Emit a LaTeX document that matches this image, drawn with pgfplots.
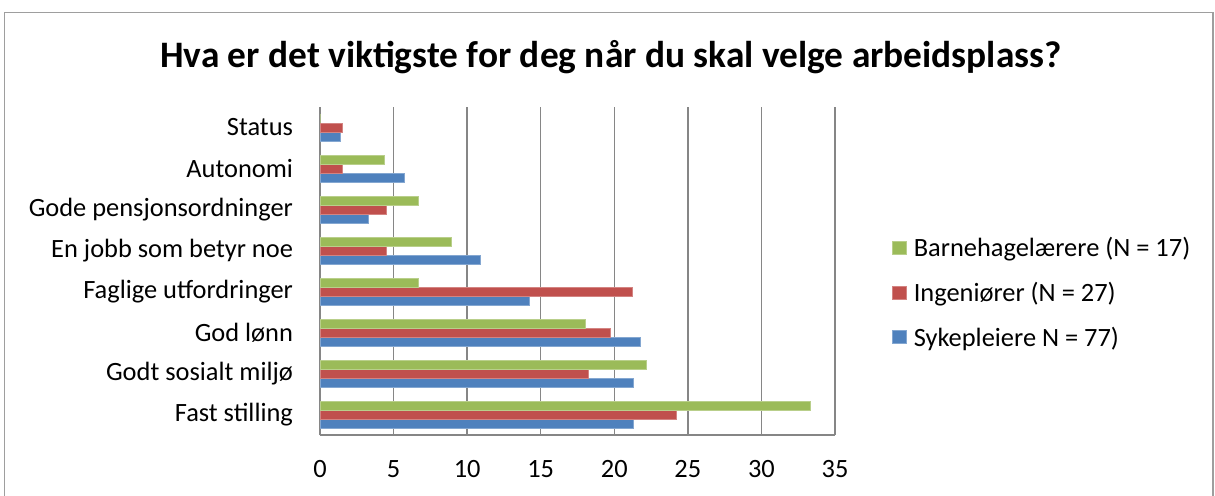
\documentclass[border=0pt]{standalone}
\usepackage{fontspec}
\setmainfont{Carlito}
\usepackage{pgfplots}
\pgfplotsset{compat=1.18}
\definecolor{cblue}{HTML}{4F81BD}
\definecolor{cred}{HTML}{C0504D}
\definecolor{cgreen}{HTML}{9BBB59}
\definecolor{cgrid}{HTML}{868686}
\begin{document}
\begin{tikzpicture}
\useasboundingbox (0bp,0bp) rectangle (1215bp,-496bp);
\begin{scope}
\clip (0bp,0bp) rectangle (1215bp,-496bp);
\draw[color=cgrid!80, line width=1.5bp] (4.5bp,-12.5bp) rectangle (1213bp,-520bp);
\end{scope}
\node[font=\bfseries\fontsize{37.5}{42}\selectfont] at (611bp,-57bp) {Hva er det viktigste for deg når du skal velge arbeidsplass?};
\begin{axis}[
  at={(320bp,-435bp)}, anchor=south west,
  scale only axis, width=515bp, height=328bp,
  xbar=0pt, bar width=9bp,
  xmin=0, xmax=35, ymin=-0.5, ymax=7.5,
  xtick={0,5,...,35},
  ytick={0,...,7},
  yticklabels={Fast stilling,Godt sosialt miljø,God lønn,Faglige utfordringer,En jobb som betyr noe,Gode pensjonsordninger,Autonomi,Status},
  axis x line*=bottom, axis y line*=left,
  axis line style={cgrid, line width=1.5bp},
  xmajorgrids, grid style={cgrid, line width=1.5bp},
  major tick length=0pt,
  tick label style={font=\fontsize{26.5}{30}\selectfont},
  xticklabel style={yshift=-22bp},
  yticklabel style={xshift=-23.5bp},
  /pgf/number format/assume math mode=true,
  legend style={at={(1.1107,0.435)}, anchor=west, draw=none, fill=none,
    font=\fontsize{26.5}{30}\selectfont, row sep=20bp, column sep=5bp,
    inner sep=0pt, cells={anchor=west}},
  reverse legend,
  legend image code/.code={\fill[#1] (0bp,-6.5bp) rectangle (14bp,6.5bp);},
]
\addplot[fill=cblue, draw=cblue!70!white, line width=0.6bp] coordinates {(21.3,0) (21.3,1) (21.8,2) (14.2,3) (10.9,4) (3.3,5) (5.7,6) (1.4,7)};
\addplot[fill=cred, draw=cred!70!white, line width=0.6bp] coordinates {(24.2,0) (18.2,1) (19.7,2) (21.2,3) (4.5,4) (4.5,5) (1.5,6) (1.5,7)};
\addplot[fill=cgreen, draw=cgreen!70!white, line width=0.6bp] coordinates {(33.3,0) (22.2,1) (18.0,2) (6.7,3) (8.9,4) (6.7,5) (4.4,6) (0,7)};
\legend{Sykepleiere N = 77),Ingeniører (N = 27),Barnehagelærere (N = 17)}
\end{axis}
\end{tikzpicture}
\end{document}
